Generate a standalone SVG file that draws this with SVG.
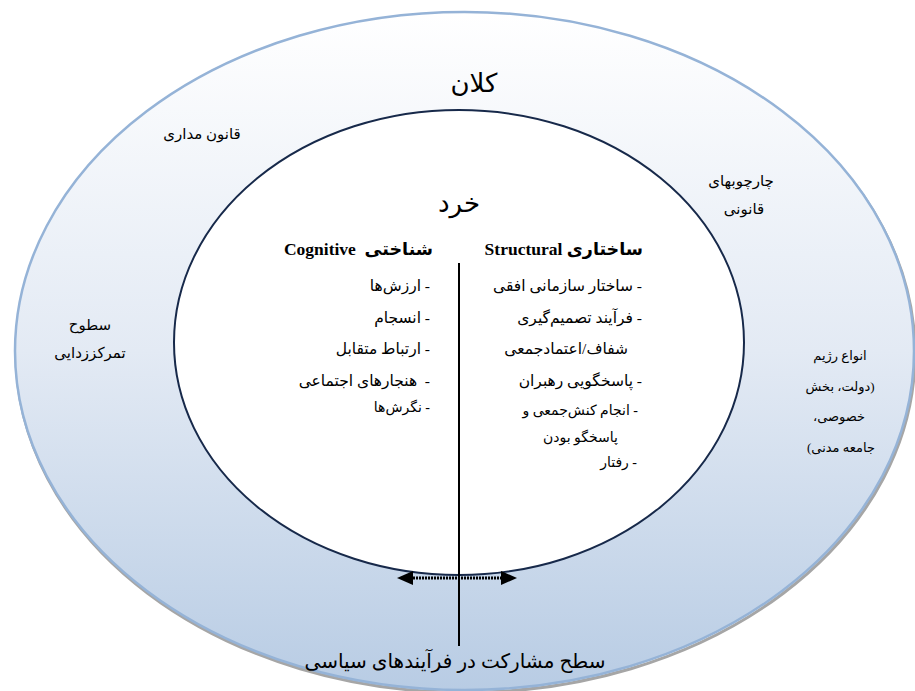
<svg xmlns="http://www.w3.org/2000/svg" width="915" height="691" viewBox="0 0 915 691">
  <defs>
    <linearGradient id="ringFill" x1="0" y1="0" x2="0" y2="1">
      <stop offset="0" stop-color="#ffffff"/>
      <stop offset="0.5" stop-color="#e3eaf4"/>
      <stop offset="1" stop-color="#b8cce4"/>
    </linearGradient>
    <marker id="head" viewBox="0 0 16 14" markerWidth="16" markerHeight="14" refX="0" refY="7" orient="auto-start-reverse" markerUnits="userSpaceOnUse">
      <path d="M0,0 L16,7 L0,14 z" fill="#000"/>
    </marker>
    <style>
      .fa { font-family: "Liberation Serif", "DejaVu Sans", serif; fill: #000; direction: rtl; }
      .big { font-size: 26px; }
      .lab { font-size: 15px; }
      .lab2 { font-size: 13px; }
      .hdr { font-size: 17.5px; font-weight: bold; }
      .item { font-size: 15.5px; }
      .small { font-size: 14px; }
      .bottom { font-size: 20px; }
    </style>
  </defs>

  <g id="outer-ring">
    <ellipse cx="465.5" cy="353.5" rx="449.5" ry="339" fill="none" stroke="#a6a6a6" stroke-width="3"/>
    <ellipse cx="464.5" cy="351" rx="449.5" ry="339" fill="url(#ringFill)" stroke="#95b3d7" stroke-width="2.5"/>
    <text class="fa big" x="474" y="92" text-anchor="middle">کلان</text>
    <text class="fa lab" x="202" y="139" text-anchor="middle">قانون مداری</text>
    <text class="fa lab" x="741" y="186" text-anchor="middle">چارچوبهای</text>
    <text class="fa lab" x="744" y="214" text-anchor="middle">قانونی</text>
    <text class="fa lab" x="90" y="330" text-anchor="middle">سطوح</text>
    <text class="fa lab" x="90" y="358" text-anchor="middle">تمرکززدایی</text>
    <text class="fa lab2" x="840" y="360" text-anchor="middle">انواع رژیم</text>
    <text class="fa lab2" x="840" y="391" text-anchor="middle">(دولت، بخش</text>
    <text class="fa lab2" x="839" y="421" text-anchor="middle">خصوصی،</text>
    <text class="fa lab2" x="841" y="452" text-anchor="middle">جامعه مدنی)</text>
    <text class="fa bottom" x="455" y="668" text-anchor="middle">سطح مشارکت در فرآیندهای سیاسی</text>
  </g>

  <g id="inner-circle">
    <ellipse cx="459" cy="342.5" rx="285" ry="232.5" fill="#ffffff" stroke="#17294a" stroke-width="2"/>
    <text class="fa big" x="459" y="212" text-anchor="middle">خرد</text>
  </g>

  <g id="cognitive">
    <text class="fa hdr" x="433" y="255">شناختی&#160; Cognitive</text>
    <text class="fa item" x="430" y="291">- ارزش‌ها</text>
    <text class="fa item" x="430" y="322.5">- انسجام</text>
    <text class="fa item" x="430" y="354">- ارتباط متقابل</text>
    <text class="fa item" x="430" y="385.5">-&#160; هنجارهای اجتماعی</text>
    <text class="fa small" x="430" y="412">- نگرش‌ها</text>
  </g>

  <g id="structural">
    <text class="fa hdr" x="643" y="255">ساختاری Structural</text>
    <text class="fa item" x="642" y="291">- ساختار سازمانی افقی</text>
    <text class="fa item" x="642" y="322.5">- فرآیند تصمیم‌گیری</text>
    <text class="fa item" x="628" y="354">شفاف/اعتمادجمعی</text>
    <text class="fa item" x="642" y="385.5">- پاسخگویی رهبران</text>
    <text class="fa small" x="638" y="415">- انجام کنش‌جمعی و</text>
    <text class="fa small" x="618" y="442">پاسخگو بودن</text>
    <text class="fa small" x="637" y="467">- رفتار</text>
  </g>

  <g id="connectors">
    <line x1="459" y1="263" x2="459" y2="646" stroke="#000" stroke-width="2"/>
    <line x1="413" y1="578" x2="501" y2="578" stroke="#000" stroke-width="3" stroke-dasharray="2 1" marker-start="url(#head)" marker-end="url(#head)"/>
  </g>
</svg>
